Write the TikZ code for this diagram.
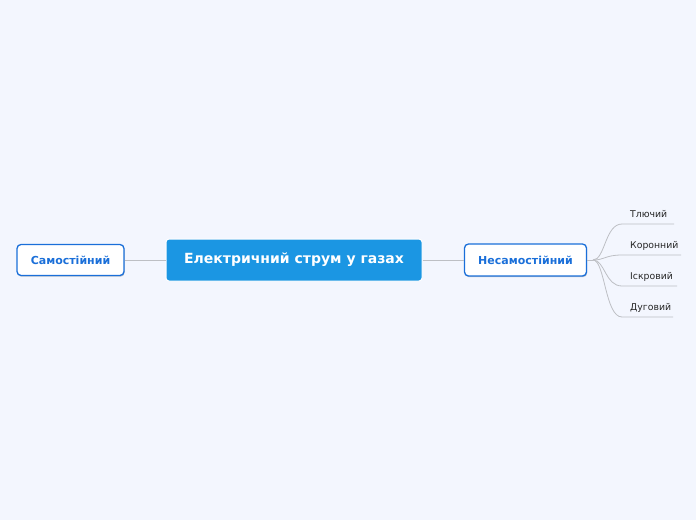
\documentclass[tikz,border=0pt]{standalone}
\usepackage{fontspec}
\setmainfont{DejaVu Sans}
\usetikzlibrary{shadows}
\definecolor{bgc}{HTML}{F3F6FE}
\definecolor{mainblue}{HTML}{1B96E3}
\definecolor{subblue}{HTML}{1A6FD9}
\definecolor{linec}{HTML}{BDBFC4}
\tikzset{
  x=1pt,y=-1pt,
  mainbox/.style={fill=mainblue,draw=white,line width=1pt,rounded corners=3pt,text=white,font=\bfseries\fontsize{14}{16}\selectfont,inner sep=0pt},
  subbox/.style={fill=white,draw=subblue,line width=1.3pt,rounded corners=4pt,text=subblue,font=\bfseries\fontsize{11}{13}\selectfont,inner sep=0pt,drop shadow={shadow xshift=0.6pt,shadow yshift=-1.2pt,opacity=0.35,fill=black!60}},
  leaf/.style={font=\fontsize{9.3}{11}\selectfont,text=black!85,anchor=base west,inner sep=0pt},
  conn/.style={draw=linec,line width=0.8pt},
}
\begin{document}
\begin{tikzpicture}
\fill[bgc] (0,0) rectangle (696,520);
\useasboundingbox (0,0) rectangle (696,520);
\node[mainbox,minimum width=256pt,minimum height=42pt] (main) at (294,260) {Електричний струм у газах};
\node[subbox,minimum width=107pt,minimum height=31pt] (left) at (70.5,260) {Самостійний};
\node[subbox,minimum width=122pt,minimum height=32pt] (right) at (525.5,260) {Несамостійний};
\draw[conn] (left.east) -- (main.west);
\draw[conn] (main.east) -- (right.east -| main.east) -- (right.west);
\coordinate (o) at (593,260);
\draw[conn] (right.east) -- (o);
\node[leaf] (t1) at (630,217) {Тлючий};
\node[leaf] (t2) at (630,248) {Коронний};
\node[leaf] (t3) at (630,279) {Іскровий};
\node[leaf] (t4) at (630,310) {Дуговий};
\coordinate (u1s) at (622,224); \coordinate (u1e) at (674,224);
\coordinate (u2s) at (622,255); \coordinate (u2e) at (681,255);
\coordinate (u3s) at (622,286); \coordinate (u3e) at (677,286);
\coordinate (u4s) at (622,317); \coordinate (u4e) at (673,317);
\draw[conn] (o) .. controls (605,260) and (605,224) .. (u1s) -- (u1e);
\draw[conn] (o) .. controls (605,260) and (605,255) .. (u2s) -- (u2e);
\draw[conn] (o) .. controls (605,260) and (605,286) .. (u3s) -- (u3e);
\draw[conn] (o) .. controls (605,260) and (605,317) .. (u4s) -- (u4e);
\end{tikzpicture}
\end{document}
